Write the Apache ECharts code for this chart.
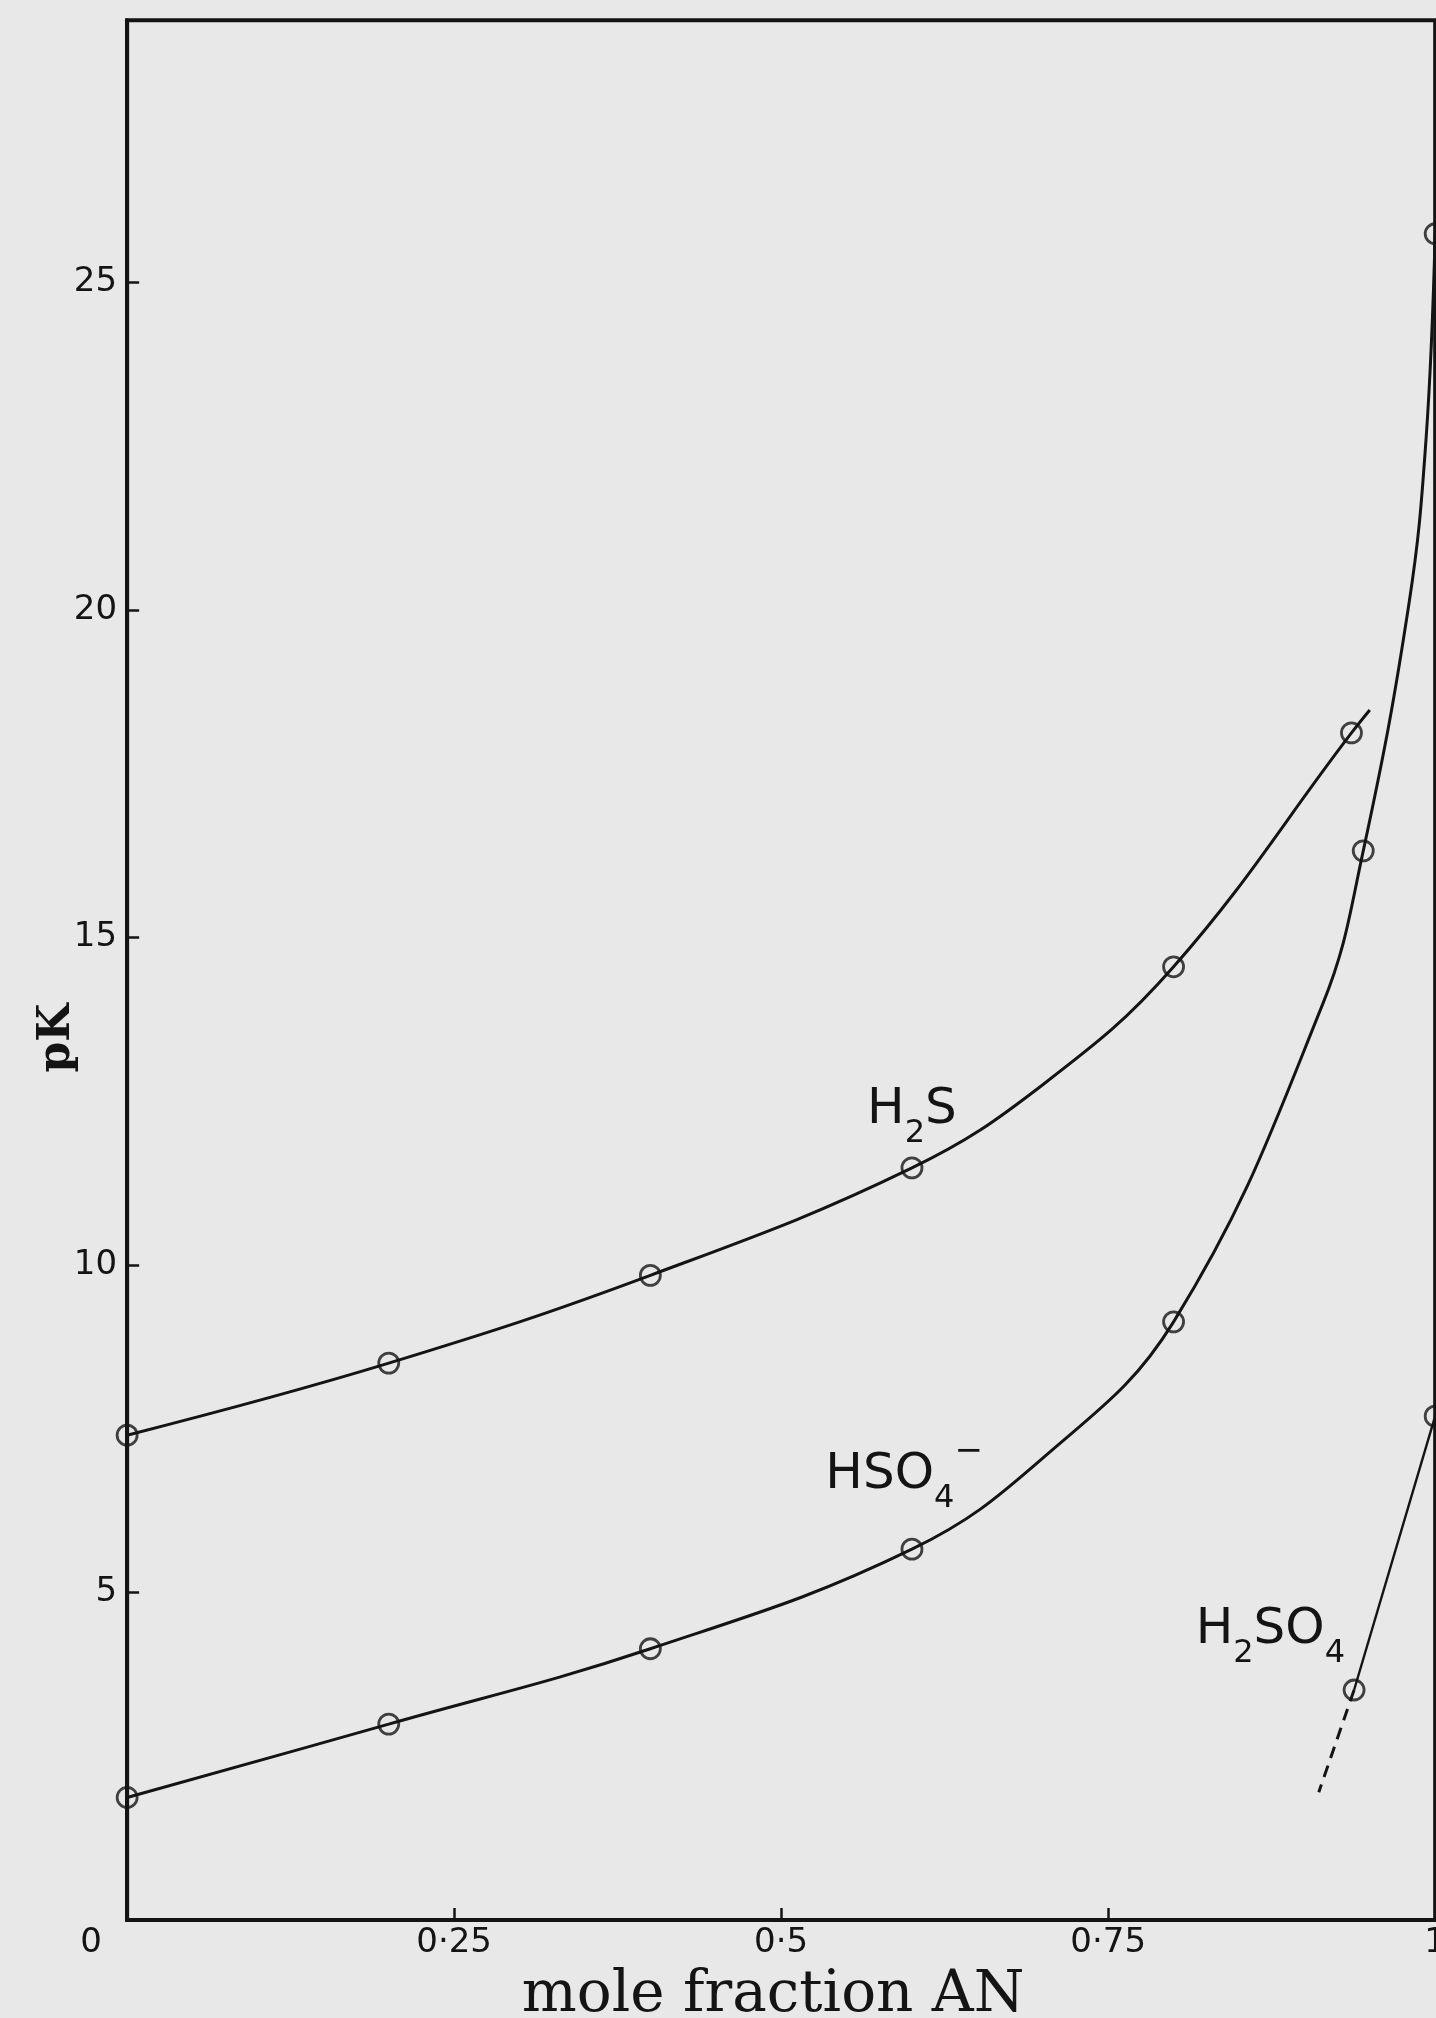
<!DOCTYPE html>
<html><head><meta charset="utf-8">
<script src="https://cdn.jsdelivr.net/npm/echarts@6/dist/echarts.min.js"></script>
<style>html,body{margin:0;padding:0;background:#e8e8e8}#c{position:absolute;left:0;top:0;width:1449px;height:2036px}</style>
</head><body><div id="c"></div>
<script>
// ---- data ----
const xTicks = [0, 0.25, 0.5, 0.75, 1];
const xTickLabels = ['0', '0·25', '0·5', '0·75', '1'];
const yTicks = [5, 10, 15, 20, 25];
const yTickLabels = ['5', '10', '15', '20', '25'];

// measured points (open circles)
const h2sX = [0, 0.2, 0.4, 0.6, 0.8, 0.936];
const h2sY = [7.4, 8.5, 9.84, 11.48, 14.55, 18.12];
const hso4X = [0, 0.2, 0.4, 0.6, 0.8, 0.945, 1.0];
const hso4Y = [1.87, 2.99, 4.14, 5.66, 9.13, 16.32, 25.74];
const h2so4X = [0.938, 1.0];
const h2so4Y = [3.51, 7.69];

// drawn curves
const h2sCurveX = [0, 0.2, 0.4, 0.6, 0.7, 0.8, 0.936, 0.95];
const h2sCurveY = [7.4, 8.5, 9.84, 11.48, 12.75, 14.55, 18.12, 18.47];
const hso4CurveX = [0, 0.2, 0.4, 0.6, 0.7, 0.8, 0.914, 0.945, 0.98, 0.993, 1.0];
const hso4CurveY = [1.87, 2.99, 4.14, 5.66, 7.05, 9.13, 13.98, 16.32, 20.1, 22.6, 25.74];
const h2so4DashX = [0.938, 0.911];
const h2so4DashY = [3.51, 1.95];

// curve labels (anchor in data units)
const labelX = [0.600, 0.594, 0.874];
const labelY = [12.37, 6.79, 4.43];
const labelText = ['{m|H}{s|2}{m|S}', '{m|HSO}{s|4}{p|−}', '{m|H}{s|2}{m|SO}{s|4}'];

const xName = 'mole fraction AN';
const yName = 'pK';

// ---- chart ----
const ink = '#141414';
const zip = (a, b) => a.map((v, i) => [v, b[i]]);
const circleStyle = {color: 'rgba(0,0,0,0)', borderColor: ink, borderWidth: 2.8};

const chart = echarts.init(document.getElementById('c'), null, {renderer: 'canvas', width: 1449, height: 2036});
chart.setOption({
  backgroundColor: '#e8e8e8',
  animation: false,
  grid: {left: '8.774%', right: '0.139%', top: '0.991%', bottom: '5.70%', show: true, borderColor: ink, borderWidth: 4, backgroundColor: 'rgba(0,0,0,0)'},
  xAxis: {
    type: 'value', min: 0, max: 1, interval: 0.25,
    name: xName, nameLocation: 'middle', nameGap: 47, nameMoveOverlap: false,
    nameTextStyle: {fontFamily: 'DejaVu Serif', fontSize: 58, color: ink, padding: [0, 16, 0, 0]},
    axisLine: {lineStyle: {color: ink, width: 4}},
    axisTick: {show: true, inside: true, length: 12, lineStyle: {color: ink, width: 2.5}},
    splitLine: {show: false},
    axisLabel: {
      margin: 6, fontFamily: 'DejaVu Sans', fontSize: 34, color: ink,
      formatter: v => {
        const i = xTicks.findIndex(t => Math.abs(t - v) < 1e-9);
        if (i < 0) return '';
        return i === 0 ? '{z|' + xTickLabels[0] + '}' : xTickLabels[i];
      },
      rich: {z: {fontFamily: 'DejaVu Sans', fontSize: 34, color: ink, padding: [0, 72, 0, 0]}}
    }
  },
  yAxis: {
    type: 'value', min: 0, max: 29, interval: 5,
    name: yName, nameLocation: 'middle', nameGap: 48, nameRotate: 90, nameMoveOverlap: false,
    nameTextStyle: {fontFamily: 'DejaVu Serif', fontWeight: 'bold', fontSize: 44, color: ink, padding: [0, 136, 0, 0]},
    axisLine: {lineStyle: {color: ink, width: 4}},
    axisTick: {show: true, inside: true, length: 12, lineStyle: {color: ink, width: 2.5}},
    splitLine: {show: false},
    axisLabel: {
      margin: 10, fontFamily: 'DejaVu Sans', fontSize: 34, color: ink,
      formatter: v => {
        const i = yTicks.findIndex(t => Math.abs(t - v) < 1e-9);
        return i < 0 ? '' : yTickLabels[i];
      }
    }
  },
  series: [
    {type: 'line', name: 'H2S curve', data: zip(h2sCurveX, h2sCurveY), smooth: 0.4, showSymbol: false, lineStyle: {color: ink, width: 3}},
    {type: 'line', name: 'HSO4 curve', data: zip(hso4CurveX, hso4CurveY), smooth: 0.4, showSymbol: false, lineStyle: {color: ink, width: 3}},
    {type: 'line', name: 'H2SO4 line', data: zip(h2so4X, h2so4Y), showSymbol: false, lineStyle: {color: ink, width: 2.4}},
    {type: 'line', name: 'H2SO4 extrapolation', data: zip(h2so4DashX, h2so4DashY), showSymbol: false, lineStyle: {color: ink, width: 3, type: [12, 8]}},
    {type: 'scatter', name: 'H2S', data: zip(h2sX, h2sY), symbol: 'circle', symbolSize: 20, itemStyle: circleStyle, z: 5},
    {type: 'scatter', name: 'HSO4-', data: zip(hso4X, hso4Y), symbol: 'circle', symbolSize: 20, itemStyle: circleStyle, z: 5},
    {type: 'scatter', name: 'H2SO4', data: zip(h2so4X, h2so4Y), symbol: 'circle', symbolSize: 20, itemStyle: circleStyle, z: 5},
    {
      type: 'scatter', name: 'labels', symbolSize: 0, z: 6,
      data: labelX.map((x, i) => ({value: [x, labelY[i]], name: labelText[i]})),
      label: {
        show: true, position: 'inside', align: 'center', verticalAlign: 'middle',
        color: ink, textBorderWidth: 0, textBorderColor: 'transparent', opacity: 1,
        formatter: p => p.name,
        rich: {
          m: {fontFamily: 'DejaVu Sans', fontSize: 50, color: ink, lineHeight: 80, verticalAlign: 'middle', textBorderWidth: 0},
          s: {fontFamily: 'DejaVu Sans', fontSize: 32, color: ink, verticalAlign: 'bottom', textBorderWidth: 0},
          p: {fontFamily: 'DejaVu Sans', fontSize: 34, color: ink, verticalAlign: 'top', textBorderWidth: 0}
        }
      }
    }
  ]
});
</script></body></html>
